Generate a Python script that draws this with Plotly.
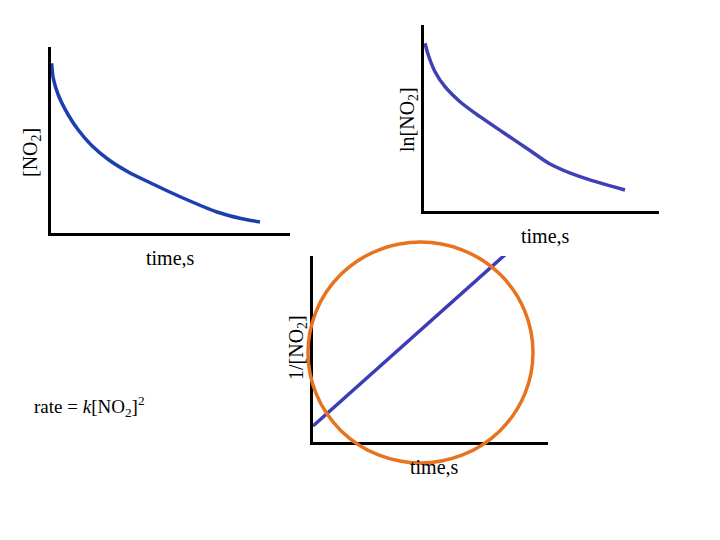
import plotly.graph_objects as go

# Page body has an 8px default margin; figure drawn at (8, 8)
OFF = 8
W, H = 720 - OFF, 540 - OFF

# Plot 1: [NO2] vs time (arbitrary units)
t1 = [0.7, 2.3, 7.3, 17.3, 27.3, 40.7, 57.3, 77.3, 100.7, 132, 166, 190, 209]
conc1 = [169.7, 154.7, 138, 118, 103, 87.5, 73.5, 61, 49.5, 35, 21, 14.5, 11]

# Plot 2: ln[NO2] vs time
t2 = [1, 4.3, 11, 21, 36, 56, 79.3, 106, 126, 156, 201]
ln2 = [167.7, 156, 139.3, 124.3, 109.3, 94.3, 78.5, 60.5, 47, 34.3, 21]

# Plot 3: 1/[NO2] vs time
t3 = [0, 194]
inv3 = [16, 189]

fig = go.Figure()
fig.add_trace(go.Scatter(x=t1, y=conc1, mode="lines", line=dict(color="#1c3fb0", width=3.5, shape="spline", smoothing=0.8),
                         xaxis="x", yaxis="y", showlegend=False, hoverinfo="skip", cliponaxis=False))
fig.add_trace(go.Scatter(x=t2, y=ln2, mode="lines", line=dict(color="#4040b4", width=3.5, shape="spline", smoothing=0.8),
                         xaxis="x2", yaxis="y2", showlegend=False, hoverinfo="skip", cliponaxis=False))
fig.add_trace(go.Scatter(x=t3, y=inv3, mode="lines", line=dict(color="#3c3cb8", width=3.5),
                         xaxis="x3", yaxis="y3", showlegend=False, hoverinfo="skip", cliponaxis=False))

def px(x): return (x - OFF) / W
def py(y): return 1 - (y - OFF) / H

ax_common = dict(showline=True, linecolor="black", linewidth=3, showticklabels=False,
                 showgrid=False, zeroline=False, ticks="", fixedrange=True)

fig.update_layout(
    width=W, height=H, margin=dict(l=0, r=0, t=0, b=0),
    paper_bgcolor="white", plot_bgcolor="white",
    xaxis=dict(domain=[px(51), px(290)], range=[0, 239], anchor="y", **ax_common),
    yaxis=dict(domain=[py(233), py(47)], range=[0, 186], anchor="x", **ax_common),
    xaxis2=dict(domain=[px(424), px(659)], range=[0, 235], anchor="y2", **ax_common),
    yaxis2=dict(domain=[py(211), py(25)], range=[0, 186], anchor="x2", **ax_common),
    xaxis3=dict(domain=[px(313), px(548)], range=[0, 235], anchor="y3", **ax_common),
    yaxis3=dict(domain=[py(442), py(256)], range=[0, 186], anchor="x3", **ax_common),
    font=dict(family="Liberation Serif, Times New Roman, serif", size=20, color="black"),
)

fig.add_shape(type="circle", xref="paper", yref="paper",
              x0=px(308), x1=px(533), y0=py(463), y1=py(242),
              line=dict(color="#e8731f", width=3.5), layer="above")

ann = [
    ("[NO<sub>2</sub>]", 32, 153, -90),
    ("time,s", 170, 258, 0),
    ("ln[NO<sub>2</sub>]", 408, 120, -90),
    ("time,s", 545, 236, 0),
    ("1/[NO<sub>2</sub>]", 297, 348, -90),
    ("time,s", 434, 467, 0),
]
for text, x, y, ang in ann:
    fig.add_annotation(text=text, x=px(x), y=py(y), xref="paper", yref="paper",
                       showarrow=False, textangle=ang, xanchor="center", yanchor="middle",
                       font=dict(size=20))

fig.add_annotation(text="rate = <i>k</i>[NO<sub>2</sub>]<sup>2</sup>", x=px(32), y=py(406),
                   xref="paper", yref="paper", showarrow=False, xanchor="left", yanchor="middle",
                   font=dict(size=19))

fig.write_html("out.html")
